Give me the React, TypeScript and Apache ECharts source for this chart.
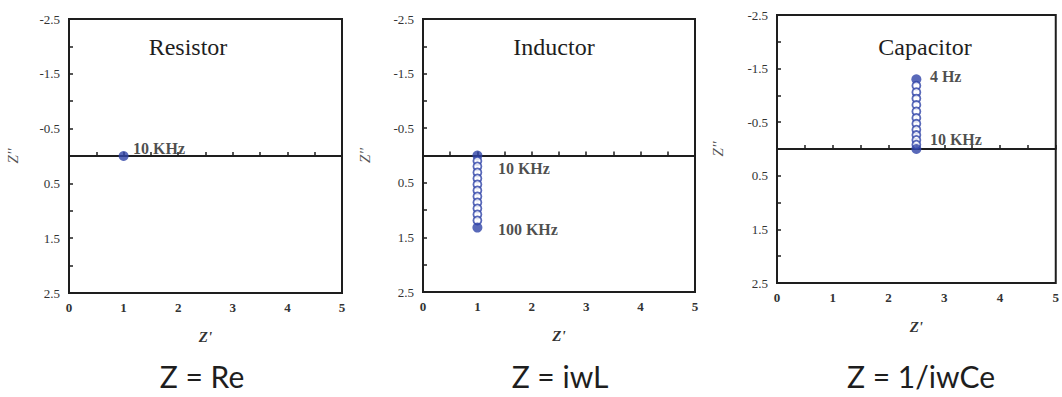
import React, { useEffect, useRef } from "react";
import * as echarts from "echarts";

// ---- data ----
const panelTitles = ["Resistor", "Inductor", "Capacitor"];
const formulas = ["Z = Re", "Z = iwL", "Z = 1/iwCe"];
const xAxisNames = ["Z'", "Z'", "Z'"];
const yAxisNames = ["Z''", "Z''", "Z''"];

const resistorReal = [1];
const resistorImag = [0];
const resistorLabels = ["10 KHz"];

const inductorReal = [1, 1, 1, 1, 1, 1, 1, 1, 1, 1, 1, 1, 1];
const inductorImag = [0, 0.1, 0.2, 0.31, 0.42, 0.53, 0.64, 0.75, 0.86, 0.97, 1.08, 1.19, 1.32];
const inductorLabels = ["10 KHz", "", "", "", "", "", "", "", "", "", "", "", "100 KHz"];

const capacitorReal = [2.5, 2.5, 2.5, 2.5, 2.5, 2.5, 2.5, 2.5, 2.5, 2.5, 2.5, 2.5, 2.5];
const capacitorImag = [-1.3, -1.18, -1.06, -0.94, -0.82, -0.7, -0.58, -0.47, -0.36, -0.26, -0.17, -0.08, 0];
const capacitorLabels = ["4 Hz", "", "", "", "", "", "", "", "", "", "", "", "10 KHz"];

const xMin = 0;
const xMax = 5;
const yMin = -2.5;
const yMax = 2.5;
const tickStep = 0.5;

// ---- layout / style ----
const grids = [
  { left: 69, top: 19, width: 273, height: 274 },
  { left: 423, top: 19, width: 272, height: 273 },
  { left: 777, top: 15, width: 287, height: 268 },
];
const titlePos = [
  [188, 47],
  [554, 47],
  [925, 47],
];
const formulaPos = [
  [202, 376],
  [560, 376],
  [921, 376],
];
const labelOffsets: number[][][] = [
  [[4.5, -8]],
  [[15.5, 13], [15.5, 2]],
  [[8.5, -3], [8.5, -10]],
];
const yGaps = [49, 51, 52];
const BLUE = "#2f43a8";
const INK = "#1e1e1e";
const SERIF = "'Liberation Serif', 'DejaVu Serif', serif";

function buildData(re: number[], im: number[], labels: string[], offs: number[][]) {
  let li = 0;
  return re.map((x, i) => {
    const filled = i === 0 || i === re.length - 1;
    const item: any = {
      value: [x, im[i]],
      symbolSize: filled ? 10 : 8,
      itemStyle: filled
        ? { color: BLUE, borderColor: BLUE, borderWidth: 0 }
        : { color: "#fff", borderColor: BLUE, borderWidth: 1.8 },
    };
    if (labels[i]) {
      const o = offs[li++] || [5, 0];
      item.label = {
        show: true,
        formatter: labels[i],
        position: "right",
        distance: 0,
        offset: o,
        fontFamily: SERIF,
        fontWeight: "bold",
        fontSize: 16,
        color: INK,
      };
    }
    return item;
  });
}

export default function App() {
  const ref = useRef<HTMLDivElement>(null);
  useEffect(() => {
    if (!ref.current) return;
    const chart = echarts.init(ref.current, null, { renderer: "svg" });
    const panels = [
      buildData(resistorReal, resistorImag, resistorLabels, labelOffsets[0]),
      buildData(inductorReal, inductorImag, inductorLabels, labelOffsets[1]),
      buildData(capacitorReal, capacitorImag, capacitorLabels, labelOffsets[2]),
    ];
    const option: any = {
      animation: false,
      backgroundColor: "#fff",
      grid: grids.map((g) => ({
        ...g,
        show: true,
        borderColor: INK,
        borderWidth: 2,
        backgroundColor: "transparent",
      })),
      xAxis: grids.map((_, i) => ({
        type: "value",
        gridIndex: i,
        min: xMin,
        max: xMax,
        interval: tickStep,
        name: xAxisNames[i],
        nameLocation: "middle",
        nameGap: 36,
        nameTextStyle: { fontFamily: SERIF, fontStyle: "italic", fontWeight: "bold", fontSize: 15, color: "#333" },
        axisLine: { show: true, lineStyle: { color: INK, width: 2 } },
        axisTick: { show: true, inside: true, length: 4, lineStyle: { color: INK, width: 1.5 } },
        splitLine: { show: false },
        axisLabel: {
          fontFamily: SERIF,
          fontWeight: "bold",
          fontSize: 13,
          color: "#333",
          margin: 8,
          showMinLabel: true,
          showMaxLabel: true,
          formatter: (v: number) => (Math.abs(v - Math.round(v)) < 1e-6 ? String(Math.round(v)) : ""),
        },
      })),
      yAxis: grids.map((_, i) => ({
        type: "value",
        gridIndex: i,
        min: yMin,
        max: yMax,
        interval: tickStep,
        inverse: true,
        name: yAxisNames[i],
        nameLocation: "middle",
        nameRotate: 90,
        nameGap: yGaps[i],
        nameTextStyle: { fontFamily: SERIF, fontStyle: "italic", fontSize: 15, color: "#555" },
        axisLine: { show: true, lineStyle: { color: INK, width: 2 } },
        axisTick: { show: true, inside: true, length: 4, lineStyle: { color: INK, width: 1.5 } },
        splitLine: { show: false },
        axisLabel: {
          fontFamily: SERIF,
          fontSize: 13,
          color: "#333",
          margin: 9,
          showMinLabel: true,
          showMaxLabel: true,
          formatter: (v: number) => {
            const k = Math.round(v * 2);
            return Math.abs(k) % 2 === 1 ? v.toFixed(1) : "";
          },
        },
      })),
      series: panels.map((data, i) => ({
        type: "scatter",
        xAxisIndex: i,
        yAxisIndex: i,
        data,
        z: 3,
        markLine: {
          silent: true,
          z: 1,
          symbol: ["none", "none"],
          label: { show: false },
          lineStyle: { color: INK, width: 1.8, type: "solid" },
          data: [{ yAxis: 0 }],
        },
      })),
      graphic: [
        ...panelTitles.map((t, i) => ({
          type: "text",
          x: titlePos[i][0],
          y: titlePos[i][1],
          style: {
            text: t,
            font: `24px ${SERIF}`,
            fill: INK,
            textAlign: "center",
            textVerticalAlign: "middle",
          },
        })),
        ...formulas.map((t, i) => ({
          type: "text",
          x: formulaPos[i][0],
          y: formulaPos[i][1],
          style: {
            text: t,
            font: `30px Lato, 'Open Sans', sans-serif`,
            fill: INK,
            textAlign: "center",
            textVerticalAlign: "middle",
          },
        })),
      ],
    };
    chart.setOption(option);
    return () => chart.dispose();
  }, []);
  return (
    <div
      ref={ref}
      style={{ position: "absolute", left: 0, top: 0, width: 1062, height: 397, background: "#fff" }}
    />
  );
}
